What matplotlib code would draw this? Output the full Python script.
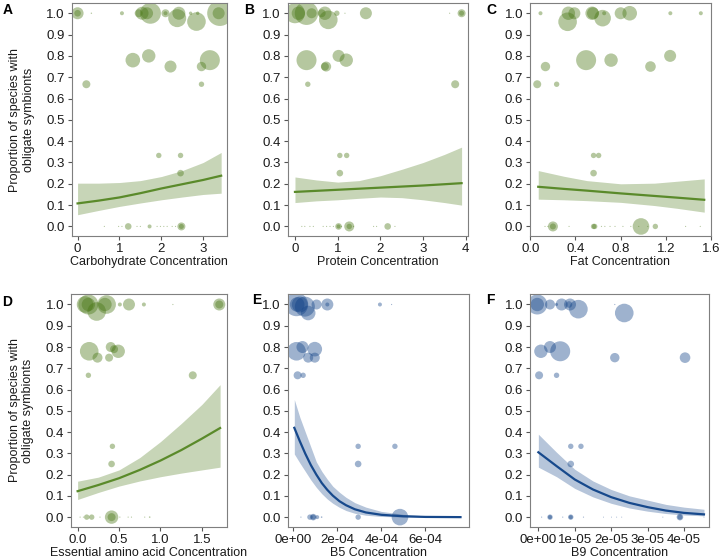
import numpy as np
import matplotlib
matplotlib.use("Agg")
import matplotlib.pyplot as plt

plt.rcParams['font.family'] = ['Liberation Sans', 'DejaVu Sans']

# --- panel A: carbohydrate ---
a_x = [0.0, 0.0, 0.33, 1.06, 1.46, 1.54, 1.74, 1.66, 2.1, 2.1, 2.38, 2.42, 2.7, 2.87, 2.84, 3.4, 3.37,
       1.32, 1.70, 2.22, 2.96, 3.16, 0.21, 2.96, 1.94, 2.46, 2.46,
       0.64, 0.98, 1.06, 1.21, 1.42, 1.5, 1.72, 1.9, 1.98, 2.06, 2.14, 2.26, 2.34, 2.48, 2.48]
a_y = [1, 1, 1, 1, 1, 1, 1, 1, 1, 1, 0.977, 1, 1, 1, 0.961, 1, 1,
       0.78, 0.8, 0.75, 0.75, 0.78, 0.667, 0.667, 0.333, 0.333, 0.25,
       0, 0, 0, 0, 0, 0, 0, 0, 0, 0, 0, 0, 0, 0, 0]
a_w = [6, 3.3, 0.7, 2, 4, 6.5, 10.5, 6, 4, 2, 9, 6.5, 1.7, 1.7, 9.3, 12.7, 6,
       7.3, 6.7, 6, 4.7, 10, 4, 2.7, 2.7, 2.7, 3.3,
       0.6, 0.6, 0.6, 3.3, 0.6, 0.6, 2, 0.6, 0.6, 0.6, 0.6, 0.6, 0.6, 4, 2.5]
a_fx = [0.0, 0.5, 1.0, 1.5, 2.0, 2.5, 3.0, 3.43]
a_fit = [0.108, 0.121, 0.136, 0.156, 0.178, 0.198, 0.218, 0.238]
a_lo = [0.055, 0.075, 0.094, 0.110, 0.125, 0.138, 0.150, 0.156]
a_hi = [0.203, 0.203, 0.206, 0.215, 0.234, 0.262, 0.300, 0.347]

# --- panel B: protein ---
b_x = [0.0, 0.08, 0.27, 0.39, 0.625, 0.70, 0.78, 0.98, 1.17, 1.66, 3.62, 3.9, 3.9,
       0.27, 0.73, 0.70, 1.02, 1.2, 0.3, 3.75, 1.05, 1.21, 1.05,
       0.16, 0.23, 0.35, 0.43, 0.66, 0.74, 0.82, 0.9, 1.09, 1.37, 1.84, 1.91, 2.34,
       1.02, 1.02, 1.27, 1.27, 2.17]
b_y = [1, 1, 1, 1, 1, 1, 0.969, 1, 1, 1, 1, 1, 1,
       0.78, 0.75, 0.75, 0.8, 0.78, 0.667, 0.667, 0.333, 0.333, 0.25,
       0, 0, 0, 0, 0, 0, 0, 0, 0, 0, 0, 0, 0,
       0, 0, 0, 0, 0]
b_w = [10, 6.7, 11.7, 5, 4, 6.7, 9.3, 2.7, 0.6, 6, 0.6, 4, 2.5,
       10, 5, 4, 6, 6.7, 2.7, 4, 2.7, 2.7, 3.3,
       0.6, 0.6, 0.6, 0.6, 0.6, 0.6, 0.6, 0.6, 0.6, 0.6, 0.6, 0.6, 0.6,
       3.3, 2, 5, 2.7, 3.3]
b_fx = [0.0, 0.5, 1.0, 1.5, 2.0, 2.5, 3.0, 3.5, 3.9]
b_fit = [0.162, 0.167, 0.172, 0.177, 0.182, 0.187, 0.192, 0.198, 0.203]
b_lo = [0.112, 0.120, 0.125, 0.132, 0.138, 0.135, 0.125, 0.112, 0.100]
b_hi = [0.232, 0.218, 0.208, 0.215, 0.238, 0.268, 0.300, 0.338, 0.372]

# --- panel C: fat ---
c_x = [0.09, 0.337, 0.39, 0.33, 0.547, 0.555, 0.64, 0.654, 0.8, 0.88, 1.24, 1.51,
       0.134, 0.494, 0.715, 1.064, 1.238, 0.061, 0.233, 0.56, 0.605, 0.56,
       0.13, 0.155, 0.343, 0.63, 0.66, 0.706, 0.75, 0.82, 0.89, 0.96, 1.04, 1.375, 1.505,
       0.2, 0.2, 0.56, 0.57, 0.98, 1.107]
c_y = [1, 1, 1, 0.96, 1, 1, 0.977, 1, 1, 1, 1, 1,
       0.75, 0.78, 0.78, 0.75, 0.8, 0.667, 0.667, 0.333, 0.333, 0.25,
       0, 0, 0, 0, 0, 0, 0, 0, 0, 0, 0, 0, 0,
       0, 0, 0, 0, 0, 0]
c_w = [2, 6.7, 6, 9.3, 6.7, 6, 8.3, 2, 6, 7.3, 2, 2,
       4.7, 10, 6.7, 5.3, 6, 4, 2.7, 2.7, 2.7, 3.3,
       0.6, 0.6, 0.6, 0.6, 0.6, 0.6, 0.6, 0.6, 0.6, 0.6, 0.6, 0.6, 0.6,
       5, 3, 2.7, 2.7, 8.3, 2.7]
c_fx = [0.07, 0.3, 0.5, 0.8, 1.1, 1.3, 1.54]
c_fit = [0.186, 0.176, 0.168, 0.155, 0.143, 0.135, 0.125]
c_lo = [0.128, 0.125, 0.121, 0.113, 0.098, 0.085, 0.067]
c_hi = [0.262, 0.235, 0.215, 0.200, 0.203, 0.212, 0.223]

# --- panel D: essential amino acids ---
d_x = [0.09, 0.13, 0.13, 0.23, 0.33, 0.35, 0.51, 0.62, 0.8, 1.15, 1.71, 1.71,
       0.14, 0.24, 0.40, 0.44, 0.49, 0.38, 0.13, 1.39, 0.42, 0.41,
       0.03, 0.07, 0.27, 0.51, 0.61, 0.65, 0.81, 0.87,
       0.11, 0.17, 0.41, 0.41]
d_y = [1, 1, 1, 0.967, 1, 1, 1, 1, 1, 1, 1, 1,
       0.78, 0.75, 0.8, 0.79, 0.78, 0.75, 0.667, 0.667, 0.333, 0.25,
       0, 0, 0, 0, 0, 0, 0, 0,
       0, 0, 0, 0]
d_w = [8.3, 10, 6.7, 9.3, 6.7, 9.3, 2, 6, 2, 0.6, 6, 4,
       9.3, 5, 5, 4, 6.7, 4, 2.7, 4, 2.7, 3.3,
       0.6, 0.6, 0.6, 0.6, 0.6, 0.6, 0.6, 0.8,
       2.7, 2.7, 6.7, 4]
d_fx = [0.0, 0.25, 0.5, 0.75, 1.0, 1.25, 1.5, 1.72]
d_fit = [0.122, 0.151, 0.183, 0.222, 0.266, 0.315, 0.369, 0.419]
d_lo = [0.083, 0.116, 0.146, 0.170, 0.190, 0.207, 0.222, 0.235]
d_hi = [0.169, 0.188, 0.222, 0.280, 0.355, 0.440, 0.530, 0.623]

# --- panel E: B5 ---
e_x = [0.15e-4, 0.18e-4, 0.3e-4, 0.53e-4, 0.68e-4, 1.06e-4, 1.55e-4, 1.55e-4, 3.94e-4, 4.47e-4,
       0.15e-4, 0.42e-4, 0.68e-4, 0.98e-4, 0.98e-4, 0.2e-4, 0.45e-4, 2.95e-4, 4.62e-4, 2.95e-4,
       0.35e-4, 0.76e-4, 0.91e-4, 0.91e-4, 1.09e-4, 1.29e-4, 2.95e-4, 4.85e-4]
e_y = [1, 1, 1, 0.99, 0.96, 1, 1, 1, 1, 1,
       0.78, 0.8, 0.75, 0.79, 0.75, 0.667, 0.667, 0.333, 0.333, 0.25,
       0, 0, 0, 0, 0, 0, 0, 0]
e_w = [11.7, 7.3, 8, 10, 7.3, 5, 6, 2, 2, 0.6,
       9.3, 6, 5, 7.3, 5, 4, 2.7, 2.7, 2.7, 3.3,
       0.6, 2.7, 3.3, 2.5, 2, 0.8, 2.7, 8.3]
e_fx = [0.05e-4, 0.3e-4, 0.55e-4, 0.8e-4, 1.05e-4, 1.3e-4, 1.55e-4, 1.8e-4, 2.1e-4, 2.4e-4,
        2.8e-4, 3.3e-4, 4.0e-4, 5.0e-4, 6.0e-4, 7.6e-4]
e_fit = [0.42, 0.357, 0.298, 0.245, 0.20, 0.16, 0.128, 0.101, 0.075, 0.056,
         0.037, 0.022, 0.011, 0.004, 0.001, 0.0]
e_lo = [0.297, 0.255, 0.215, 0.175, 0.14, 0.11, 0.085, 0.065, 0.046, 0.031,
        0.018, 0.009, 0.003, 0.001, 0.0, 0.0]
e_hi = [0.553, 0.47, 0.40, 0.33, 0.26, 0.215, 0.178, 0.145, 0.117, 0.093,
        0.068, 0.047, 0.027, 0.013, 0.006, 0.002]

# --- panel F: B9 ---
f_x = [-0.03e-5, -0.03e-5, 0.32e-5, 0.5e-5, 0.64e-5, 0.87e-5, 0.84e-5, 1.1e-5, 2.36e-5, 2.1e-5,
       0.07e-5, 0.32e-5, 0.6e-5, 2.1e-5, 4.03e-5, 0.02e-5, 0.5e-5, 0.89e-5, 1.17e-5, 0.89e-5,
       0.09e-5, 0.32e-5, 0.32e-5, 0.67e-5, 0.89e-5, 0.89e-5, 1.24e-5, 1.79e-5, 2.01e-5, 2.15e-5,
       2.29e-5, 3.42e-5, 3.89e-5, 3.89e-5, 4.55e-5]
f_y = [1, 1, 1, 1, 1, 1, 1, 0.978, 0.96, 1,
       0.78, 0.8, 0.78, 0.75, 0.75, 0.667, 0.667, 0.333, 0.333, 0.25,
       0, 0, 0, 0, 0, 0, 0, 0, 0, 0,
       0, 0, 0, 0, 0]
f_w = [10, 6.7, 5, 1.5, 6, 6, 3.3, 9.3, 9.3, 0.6,
       6.7, 6, 10, 4.7, 5.3, 4, 2.7, 2.7, 2.7, 3.3,
       0.6, 2.7, 2, 0.6, 2.7, 2, 0.6, 0.5, 0.5, 0.5,
       0.5, 0.5, 3.3, 2.5, 0.5]
f_fx = [0.0, 0.5e-5, 1.0e-5, 1.5e-5, 2.0e-5, 2.5e-5, 3.0e-5, 3.5e-5, 4.0e-5, 4.55e-5]
f_fit = [0.305, 0.24, 0.177, 0.13, 0.094, 0.067, 0.047, 0.031, 0.02, 0.013]
f_lo = [0.235, 0.19, 0.135, 0.095, 0.065, 0.043, 0.028, 0.017, 0.01, 0.006]
f_hi = [0.39, 0.305, 0.225, 0.17, 0.13, 0.10, 0.08, 0.06, 0.047, 0.037]

GREEN = '#467511'
GREEN_LINE = '#5a8a2a'
BLUE = '#0d3f85'
BLUE_LINE = '#17498c'

panels = [
    ('A', [0.0996, 0.577, 0.2157, 0.4176], (0.003, 0.995), a_x, a_y, a_w, a_fx, a_fit, a_lo, a_hi,
     'Carbohydrate Concentration', (-0.14, 3.57), [0, 1, 2, 3], ['0', '1', '2', '3'], 'g'),
    ('B', [0.3996, 0.577, 0.2504, 0.4176], (0.339, 0.995), b_x, b_y, b_w, b_fx, b_fit, b_lo, b_hi,
     'Protein Concentration', (-0.17, 4.05), [0, 1, 2, 3, 4], ['0', '1', '2', '3', '4'], 'g'),
    ('C', [0.7361, 0.577, 0.2514, 0.4176], (0.675, 0.995), c_x, c_y, c_w, c_fx, c_fit, c_lo, c_hi,
     'Fat Concentration', (-0.003, 1.58), [0, 0.4, 0.8, 1.2, 1.6], ['0.0', '0.4', '0.8', '1.2', '1.6'], 'g'),
    ('D', [0.0986, 0.0561, 0.2163, 0.4165], (0.003, 0.472), d_x, d_y, d_w, d_fx, d_fit, d_lo, d_hi,
     'Essential amino acid Concentration', (-0.08, 1.80), [0, 0.5, 1.0, 1.5], ['0.0', '0.5', '1.0', '1.5'], 'g'),
    ('E', [0.3996, 0.0561, 0.2522, 0.4165], (0.350, 0.475), e_x, e_y, e_w, e_fx, e_fit, e_lo, e_hi,
     'B5 Concentration', (-0.25e-4, 8.0e-4), [0, 2e-4, 4e-4, 6e-4], ['0e+00', '2e-04', '4e-04', '6e-04'], 'b'),
    ('F', [0.7361, 0.0561, 0.2482, 0.4165], (0.675, 0.475), f_x, f_y, f_w, f_fx, f_fit, f_lo, f_hi,
     'B9 Concentration', (-0.23e-5, 4.68e-5), [0, 1e-5, 2e-5, 3e-5, 4e-5],
     ['0e+00', '1e-05', '2e-05', '3e-05', '4e-05'], 'b'),
]

fig = plt.figure(figsize=(7.2, 5.58), dpi=100)

for lab, rect, lpos, x, y, w, fx, fit, lo, hi, xlabel, xlim, xt, xtl, col in panels:
    ax = fig.add_axes(rect)
    pc = GREEN if col == 'g' else BLUE
    lc = GREEN_LINE if col == 'g' else BLUE_LINE
    # marker area from radius in pixels (1 px = 0.72 pt)
    s = (2 * np.array(w) * 0.72) ** 2
    ax.scatter(x, y, s=s, color=pc, alpha=0.4, linewidths=0, zorder=2)
    ax.fill_between(fx, lo, hi, color=pc, alpha=0.3, linewidth=0, zorder=3)
    ax.plot(fx, fit, color=lc, lw=1.6, zorder=4)

    ax.set_xlim(*xlim)
    ax.set_ylim(-0.045, 1.048)
    ax.set_xticks(xt)
    ax.set_xticklabels(xtl)
    ax.set_yticks(np.arange(0, 1.01, 0.1))
    ax.set_yticklabels([f'{v:.1f}' for v in np.arange(0, 1.01, 0.1)])
    ax.tick_params(labelsize=9.5, length=3, color='#555555', width=0.8, pad=2, labelcolor='#1a1a1a')
    for sp in ax.spines.values():
        sp.set_color('#7f7f7f')
        sp.set_linewidth(0.8)
    ax.set_xlabel(xlabel, fontsize=9, labelpad=1, color='#1a1a1a')
    if lab in ('A', 'D'):
        ax.set_ylabel('Proportion of species with\nobligate symbionts', fontsize=9,
                      color='#1a1a1a', labelpad=8)

    # panel letter
    fig.text(lpos[0], lpos[1], lab, fontsize=10, fontweight='bold', va='top')

fig.savefig('out.png', dpi=100)
